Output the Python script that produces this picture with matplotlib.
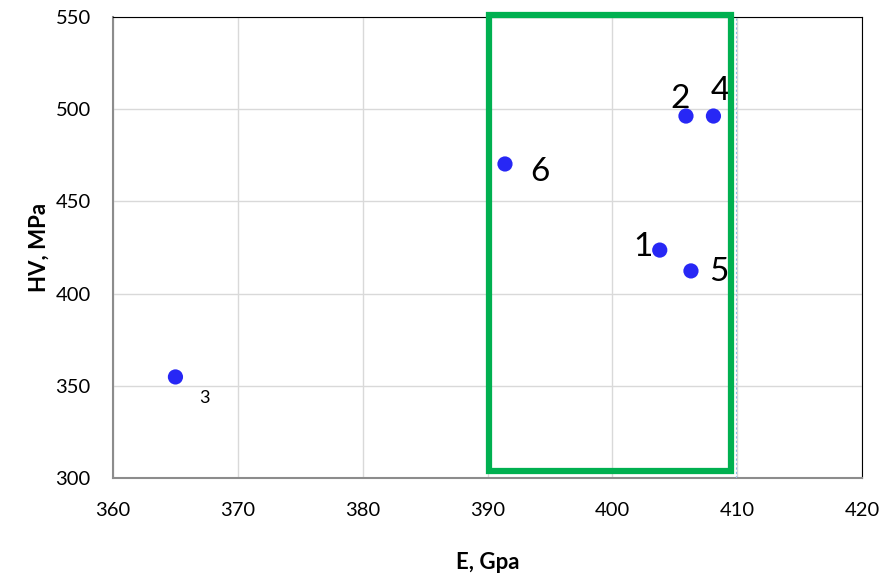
import matplotlib.pyplot as plt
from matplotlib.patches import Rectangle

# Data
sample_ids = ["1", "2", "3", "4", "5", "6"]
e_gpa = [403.8, 405.9, 365.0, 408.1, 406.3, 391.4]
hv_mpa = [423.6, 496.3, 354.8, 496.3, 412.3, 470.3]

# label offsets in points (dx, dy) and size
label_offsets = {"1": (-12, 2), "2": (-4, 12), "3": (21, -15),
                 "4": (5, 18), "5": (20, -1), "6": (25, -6)}
label_sizes = {"1": 24, "2": 24, "3": 13, "4": 24, "5": 24, "6": 24}

# highlighted region (E range, HV range)
box_e = (390.1, 409.5)
box_hv = (303.8, 551.0)

plt.rcParams['font.family'] = ['Lato', 'DejaVu Sans']

fig = plt.figure(figsize=(8.81, 5.77), dpi=100)
ax = fig.add_axes([0.1283, 0.1716, 0.8501, 0.7989])

ax.set_xlim(360, 420)
ax.set_ylim(300, 550)
ax.set_xticks(range(360, 421, 10))
ax.set_yticks(range(300, 551, 50))
ax.grid(True, color='#d9d9d9', linewidth=1)
ax.set_axisbelow(True)

ax.scatter(e_gpa, hv_mpa, s=120, color='#2727f5', zorder=3, edgecolors='none')
for sid, x, y in zip(sample_ids, e_gpa, hv_mpa):
    dx, dy = label_offsets[sid]
    ax.annotate(sid, (x, y), xytext=(dx, dy), textcoords='offset points',
                fontsize=label_sizes[sid], ha='center', va='center', zorder=4)

rect = Rectangle((box_e[0], box_hv[0]), box_e[1] - box_e[0], box_hv[1] - box_hv[0],
                 fill=False, edgecolor='#00b050', linewidth=4.5, zorder=5, clip_on=False)
ax.add_patch(rect)
ax.plot([409.9, 409.9], [300, 550], color='#8fb8e8', linestyle=(0, (2, 2)),
        linewidth=0.8, zorder=4)

for side in ['top', 'right']:
    ax.spines[side].set_color('black')
for side in ['left', 'bottom']:
    ax.spines[side].set_color('#8c8c8c')
    ax.spines[side].set_linewidth(1.5)

ax.tick_params(axis='x', length=0, labelsize=14.5, pad=17)
ax.tick_params(axis='y', length=0, labelsize=14.5, pad=16)
ax.set_xlabel("E, Gpa", fontsize=16, fontweight='bold', labelpad=24)
ax.set_ylabel("HV, MPa", fontsize=16, fontweight='bold', labelpad=4)

fig.savefig("out.png", dpi=100)
